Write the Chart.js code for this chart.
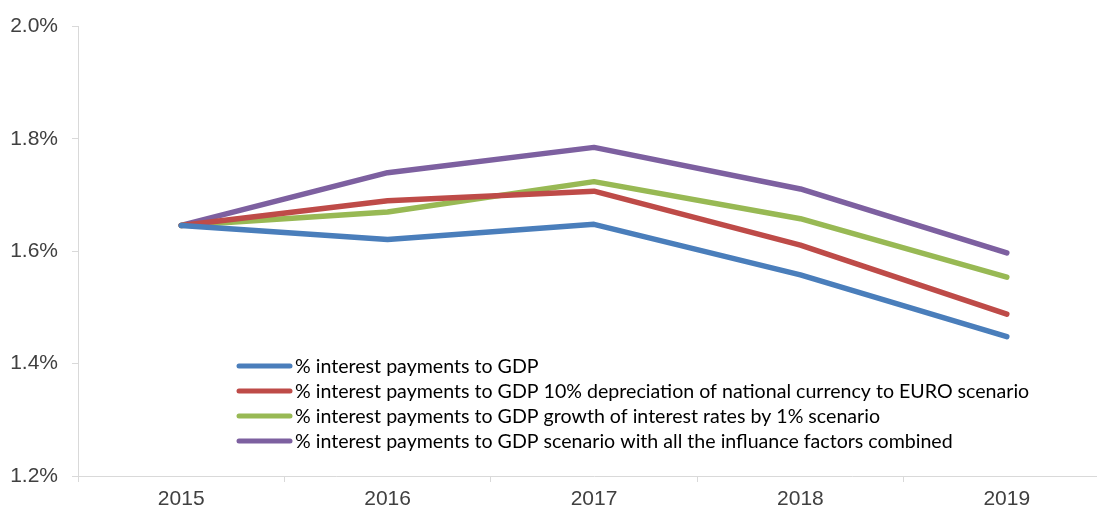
<!DOCTYPE html>
<html>
<head>
<meta charset="utf-8">
<script src="https://cdn.jsdelivr.net/npm/chart.js@4/dist/chart.umd.min.js"></script>
<style>
  html, body { margin: 0; padding: 0; background: #fff; overflow: hidden; }
  #wrap { width: 1097px; height: 508px; overflow: hidden; }
</style>
</head>
<body>
<div id="wrap"><canvas id="debt-chart" width="1112" height="508"></canvas></div>
<script>
// categories and series
let years = ['2015', '2016', '2017', '2018', '2019']
let basePayments = [1.646, 1.621, 1.648, 1.558, 1.448]
let depreciationScenario = [1.646, 1.690, 1.707, 1.611, 1.488]
let rateGrowthScenario = [1.646, 1.670, 1.724, 1.658, 1.554]
let combinedScenario = [1.646, 1.740, 1.785, 1.711, 1.597]

let seriesNames = [
    '% interest payments to GDP',
    '% interest payments to GDP 10% depreciation of national currency to EURO scenario',
    '% interest payments to GDP growth of interest rates by 1% scenario',
    '% interest payments to GDP scenario with all the influance factors combined'
]
let seriesColors = ['#4a7ebb', '#be4b48', '#98b954', '#7d60a0']
let yTicks = [1.2, 1.4, 1.6, 1.8, 2.0]

let axisColor = '#d9d9d9'
let labelColor = '#404040'
let axisFont = { family: '"Liberation Sans", Arial, sans-serif', size: 21 }

// legend drawn inside the plot, like the original spreadsheet chart
let insideLegend = {
    id: 'insideLegend',
    afterDraw(chart) {
        let ctx = chart.ctx
        ctx.save()
        ctx.font = '19.6px Lato, "Noto Sans", sans-serif'
        ctx.textBaseline = 'middle'
        ctx.lineCap = 'round'
        chart.data.datasets.forEach(function(ds, i) {
            let y = 366 + i * 25
            ctx.strokeStyle = ds.borderColor
            ctx.lineWidth = 5
            ctx.beginPath()
            ctx.moveTo(239, y)
            ctx.lineTo(290, y)
            ctx.stroke()
            ctx.fillStyle = '#000'
            ctx.fillText(ds.label, 295, y + 1)
        })
        ctx.restore()
    }
}

let datasets = [basePayments, depreciationScenario, rateGrowthScenario, combinedScenario].map(function(values, i) {
    return {
        label: seriesNames[i],
        data: values,
        borderColor: seriesColors[i],
        backgroundColor: seriesColors[i],
        borderWidth: 5.5,
        borderCapStyle: 'round',
        borderJoinStyle: 'round',
        pointRadius: 0,
        tension: 0
    }
})

let chart = new Chart(document.querySelector('#debt-chart').getContext('2d'), {
    type: 'line',
    data: { labels: years, datasets: datasets },
    options: {
        responsive: false,
        animation: false,
        devicePixelRatio: 1,
        layout: { padding: { top: 23, right: 2, left: 0, bottom: 0 } },
        plugins: { legend: { display: false }, tooltip: { enabled: false } },
        scales: {
            x: {
                offset: true,
                grid: { offset: true, drawOnChartArea: false, drawTicks: true, tickLength: 6, color: axisColor },
                border: { color: axisColor, width: 1 },
                ticks: { color: labelColor, padding: 5, font: axisFont },
                afterFit: function(s) { s.height = 32 }
            },
            y: {
                min: 1.2,
                max: 2.0,
                afterBuildTicks: function(s) { s.ticks = yTicks.map(v => ({ value: v })) },
                grid: { drawOnChartArea: false, drawTicks: true, tickLength: 6, color: axisColor },
                border: { color: axisColor, width: 1 },
                ticks: {
                    color: labelColor,
                    padding: 14,
                    font: axisFont,
                    callback: v => v.toFixed(1) + '%'
                },
                afterFit: function(s) { s.width = 78 }
            }
        }
    },
    plugins: [insideLegend]
})
</script>
</body>
</html>
